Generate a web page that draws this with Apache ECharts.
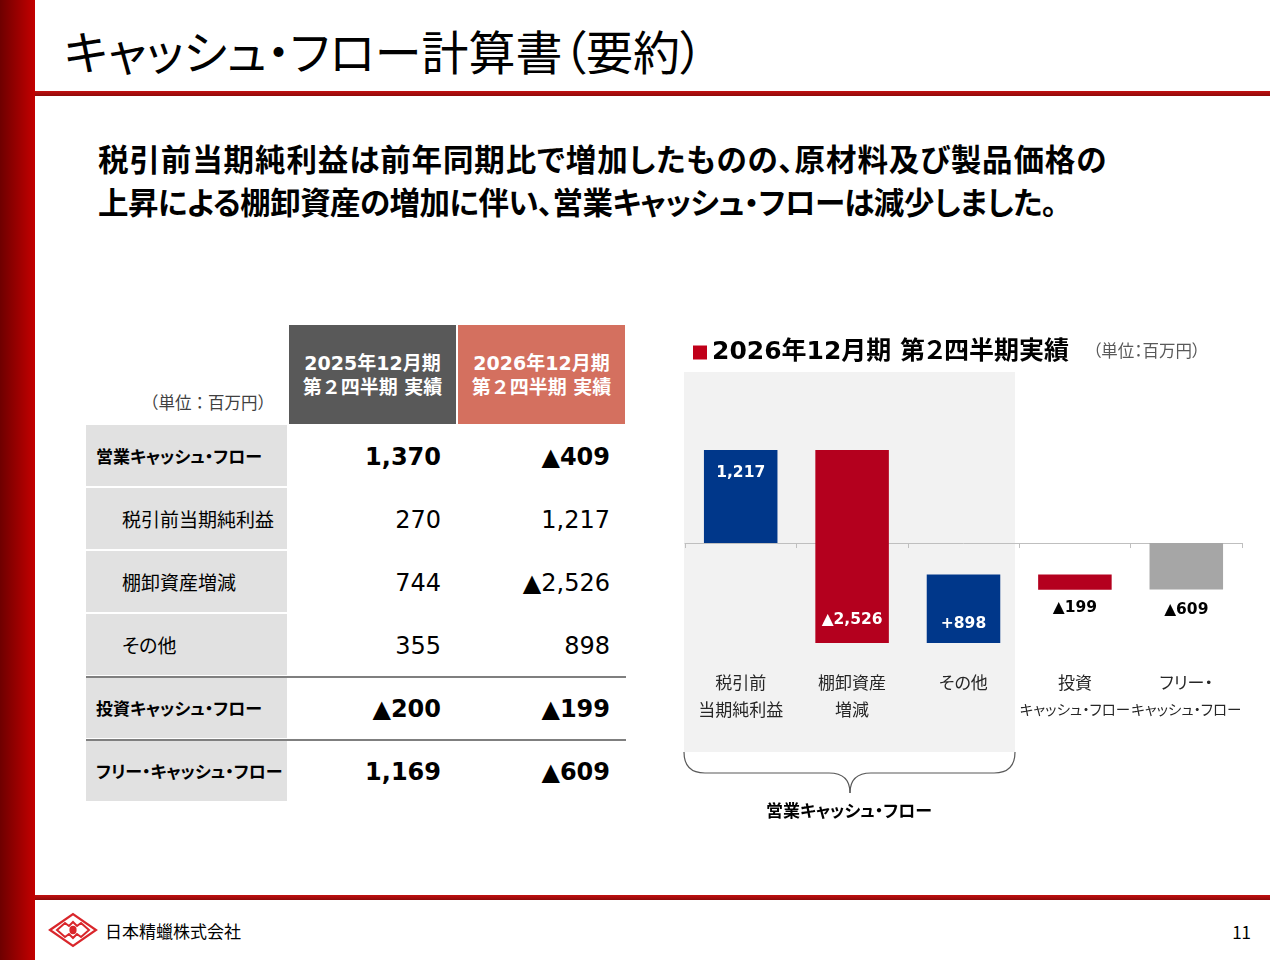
<!DOCTYPE html>
<html lang="ja"><head><meta charset="utf-8">
<script src="https://cdn.jsdelivr.net/npm/echarts@6/dist/echarts.min.js"></script>
<style>
html,body{margin:0;padding:0;background:#fff;}
body{width:1280px;height:960px;position:relative;overflow:hidden;font-family:"Noto Sans CJK JP",sans-serif;font-feature-settings:"palt";color:#000;}
.abs{position:absolute;}
.num{font-family:"DejaVu Sans","Noto Sans CJK JP",sans-serif;font-feature-settings:normal;}
</style></head>
<body>
<div class="abs" style="left:0;top:0;width:35px;height:960px;background:linear-gradient(to right,#6e0000,#c40000);"></div>
<div class="abs" style="left:35px;top:91px;width:1235px;height:5px;background:linear-gradient(to bottom,#c21010,#8e0a0a);"></div>
<div class="abs" style="left:35px;top:895px;width:1235px;height:5px;background:linear-gradient(to bottom,#c21010,#8e0a0a);"></div>
<div class="abs" id="title" style="left:64px;top:18px;font-size:47px;line-height:64px;white-space:nowrap;">キャッシュ・フロー計算書（要約）</div>
<div class="abs" style="left:98px;top:137px;font-size:30.5px;font-weight:bold;line-height:43px;white-space:nowrap;letter-spacing:0.9px;">税引前当期純利益は前年同期比で増加したものの、原材料及び製品価格の</div>
<div class="abs" style="left:98px;top:180px;font-size:30.5px;font-weight:bold;line-height:43px;white-space:nowrap;letter-spacing:-0.55px;">上昇による棚卸資産の増加に伴い、営業キャッシュ・フローは減少しました。</div>
<div id="table"></div>
<svg class="abs" style="left:48px;top:912px;" width="50" height="36" viewBox="0 0 50 36">
<path d="M2 18 L25 2 L48 18 L25 34 Z" fill="none" stroke="#d9262b" stroke-width="2.2"/>
<path d="M9 18 L17 11 L21 14 L25 10 L29 14 L33 11 L41 18 L33 25 L29 22 L25 26 L21 22 L17 25 Z" fill="none" stroke="#d9262b" stroke-width="2"/>
<ellipse cx="25" cy="18" rx="3.6" ry="4.2" fill="#d9262b"/>
</svg>
<div class="abs" style="left:105px;top:919px;font-size:17px;line-height:24px;white-space:nowrap;">日本精蠟株式会社</div>
<div class="abs" style="left:1200px;width:51px;top:920px;font-size:17px;line-height:24px;text-align:right;">11</div>
<div id="chart" class="abs" style="left:660px;top:320px;width:620px;height:540px;"></div>
<script>
// ---- data ----
const tableHeaders = ['2025年12月期\n第２四半期 実績', '2026年12月期\n第２四半期 実績'];
const tableUnit = '（単位：百万円）';
const tableRows = ['営業キャッシュ・フロー', '税引前当期純利益', '棚卸資産増減', 'その他', '投資キャッシュ・フロー', 'フリー・キャッシュ・フロー'];
const rowIsTotal = [true, false, false, false, true, true];
const fy2025 = [1370, 270, 744, 355, -200, 1169];
const fy2026 = [-409, 1217, -2526, 898, -199, -609];

const chartSeriesName = '2026年12月期 第２四半期実績';
const chartCategories = ['税引前\n当期純利益', '棚卸資産\n増減', 'その他', '投資\nキャッシュ・フロー', 'フリー・\nキャッシュ・フロー'];
const chartValues = [1217, -2526, 898, -199, -609];
const chartLabels = ['1,217', '▲2,526', '+898', '▲199', '▲609'];
const braceLabel = '営業キャッシュ・フロー';

// ---- table ----
function fmt(v){ const s = Math.abs(v).toLocaleString('en-US'); return v < 0 ? '▲' + s : s; }
const tb = document.getElementById('table');
let html = '';
const hdrColors = ['#595959', '#d4705f'];
const hdrX = [289, 458];
tableHeaders.forEach((h, j) => {
  html += `<div class="abs num" style="left:${hdrX[j]}px;top:325px;width:167px;height:99px;background:${hdrColors[j]};color:#fff;font-weight:bold;font-size:19px;line-height:24px;display:flex;align-items:center;justify-content:center;text-align:center;white-space:pre;padding-top:1px;box-sizing:border-box;">${h}</div>`;
});
html += `<div class="abs" style="left:100px;width:174px;top:390px;font-size:16.5px;line-height:24px;color:#404040;text-align:right;white-space:nowrap;font-feature-settings:normal;">${tableUnit}</div>`;
tableRows.forEach((r, k) => {
  const top = 425 + k * 63;
  const bold = rowIsTotal[k];
  html += `<div class="abs" style="left:86px;top:${top}px;width:201px;height:61px;background:#e1e1e1;"></div>`;
  html += `<div class="abs" style="left:${bold ? 96 : 122}px;top:${top}px;height:61px;line-height:61px;font-size:${bold ? 17 : 19}px;font-weight:${bold ? 'bold' : 'normal'};white-space:nowrap;">${r}</div>`;
  html += `<div class="abs num" style="left:300px;width:141px;top:${top}px;height:65px;line-height:65px;text-align:right;font-size:24px;font-weight:${bold ? 'bold' : 'normal'};">${fmt(fy2025[k])}</div>`;
  html += `<div class="abs num" style="left:460px;width:150px;top:${top}px;height:65px;line-height:65px;text-align:right;font-size:24px;font-weight:${bold ? 'bold' : 'normal'};">${fmt(fy2026[k])}</div>`;
});
[676, 739].forEach(y => { html += `<div class="abs" style="left:86px;top:${y}px;width:540px;height:2px;background:#7f7f7f;"></div>`; });
tb.innerHTML = html;

// ---- waterfall ----
const last = chartValues.length - 1;
let cum = 0;
const wf = chartValues.map((v, i) => {
  if (i === last) return [i, 0, v];
  const s = cum; cum += v; return [i, s, cum];
});
const labelCfg = [
  {pos: 'insideTop', dist: 15, fill: '#fff'},
  {pos: 'insideBottom', dist: 15, fill: '#fff'},
  {pos: 'insideBottom', dist: 11, fill: '#fff'},
  {pos: 'bottom', dist: 11, fill: '#000'},
  {pos: 'bottom', dist: 13, fill: '#000'}
];
const braceStyle = {stroke: '#595959', lineWidth: 1.2, fill: null};
const chart = echarts.init(document.getElementById('chart'), null, {renderer: 'canvas'});
chart.setOption({
  backgroundColor: 'transparent',
  animation: false,
  textStyle: {fontFamily: '"Noto Sans CJK JP", sans-serif'},
  legend: {
    show: true, left: 28, top: 15, itemWidth: 14, itemHeight: 14, itemGap: 10,
    data: [{name: chartSeriesName, icon: 'rect'}],
    textStyle: {fontSize: 25, fontWeight: 'bold', color: '#000', fontFamily: '"DejaVu Sans", "Noto Sans CJK JP", sans-serif'},
    selectedMode: false
  },
  grid: {left: 25, right: 38, top: 108.4, bottom: 197, outerBoundsMode: 'none'},
  xAxis: {
    type: 'category', data: chartCategories,
    axisLine: {onZero: true, lineStyle: {color: '#bfbfbf', width: 1}},
    axisTick: {show: true, length: 5, lineStyle: {color: '#bfbfbf'}},
    axisLabel: {
      interval: 0, margin: 6, color: '#262626',
      formatter: function (v) {
        return v.split('\n').map(l => (l.length > 5 ? '{k|' + l + '}' : '{a|' + l + '}')).join('\n');
      },
      rich: {
        a: {fontSize: 17, lineHeight: 27, color: '#262626', fontFamily: '"Noto Sans CJK JP", sans-serif'},
        k: {fontSize: 14.5, lineHeight: 27, color: '#262626', fontFamily: '"Noto Sans CJK JP", sans-serif'}
      }
    },
    splitLine: {show: false}
  },
  yAxis: {type: 'value', min: -1570, max: 1500, show: false, splitLine: {show: false}},
  graphic: [
    {type: 'rect', z: -10, shape: {x: 24, y: 52, width: 331, height: 380}, style: {fill: '#f2f2f2'}},
    {type: 'bezierCurve', z: 5, shape: {x1: 24, y1: 432, cpx1: 24, cpy1: 453, x2: 45, y2: 453}, style: braceStyle},
    {type: 'line', z: 5, shape: {x1: 45, y1: 453, x2: 169, y2: 453}, style: braceStyle},
    {type: 'bezierCurve', z: 5, shape: {x1: 169, y1: 453, cpx1: 190, cpy1: 453, x2: 190, y2: 473}, style: braceStyle},
    {type: 'bezierCurve', z: 5, shape: {x1: 190, y1: 473, cpx1: 190, cpy1: 453, x2: 211, y2: 453}, style: braceStyle},
    {type: 'line', z: 5, shape: {x1: 211, y1: 453, x2: 334, y2: 453}, style: braceStyle},
    {type: 'bezierCurve', z: 5, shape: {x1: 334, y1: 453, cpx1: 355, cpy1: 453, x2: 355, y2: 432}, style: braceStyle},
    {type: 'text', z: 5, x: 189, y: 491, style: {text: braceLabel, font: 'bold 17px "Noto Sans CJK JP"', fill: '#000', textAlign: 'center', textVerticalAlign: 'middle'}},
    {type: 'text', z: 5, x: 433, y: 31, style: {text: tableUnit, font: '16.5px "Noto Sans CJK JP"', fill: '#595959', textAlign: 'left', textVerticalAlign: 'middle'}}
  ],
  series: [{
    type: 'custom', name: chartSeriesName,
    itemStyle: {color: '#c0001a'},
    encode: {x: 0, y: [1, 2]},
    data: wf,
    renderItem: function (params, api) {
      const i = api.value(0), s = api.value(1), e = api.value(2);
      const p1 = api.coord([i, s]), p2 = api.coord([i, e]);
      const bw = api.size([1, 0])[0] * 0.66;
      const color = i === last ? '#a6a6a6' : (e > s ? '#00378a' : '#b4001e');
      const lc = labelCfg[i];
      return {
        type: 'rect',
        shape: {x: p1[0] - bw / 2, y: Math.min(p1[1], p2[1]), width: bw, height: Math.abs(p2[1] - p1[1])},
        style: {fill: color},
        textContent: {style: {text: chartLabels[i], fill: lc.fill, font: 'bold 15.5px "DejaVu Sans", "Noto Sans CJK JP"'}},
        textConfig: {position: lc.pos, distance: lc.dist}
      };
    }
  }]
});
</script>
</body></html>
